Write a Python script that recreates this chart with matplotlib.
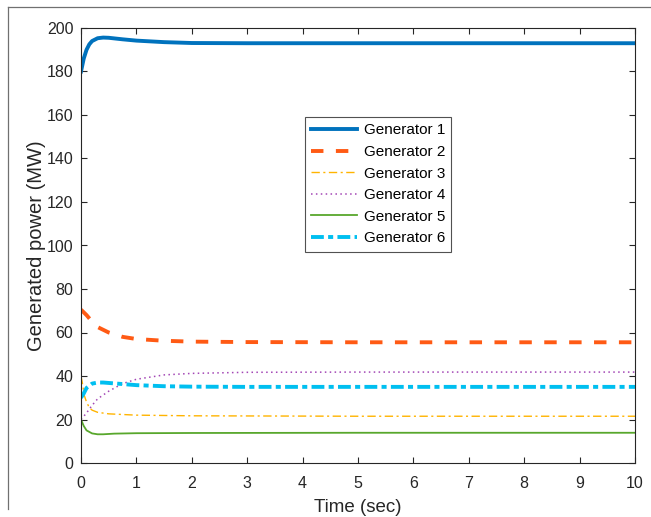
import matplotlib
matplotlib.use("Agg")
import matplotlib.pyplot as plt
from matplotlib.lines import Line2D

plt.rcParams["font.family"] = ["Liberation Sans", "DejaVu Sans"]

# Generator 1
t1 = [0, 0.05, 0.1, 0.15, 0.2, 0.3, 0.4, 0.5, 0.75, 1.0, 1.5, 2.0, 3.0, 5.0, 10.0]
p1 = [180, 186, 190, 192.5, 194, 195.3, 195.6, 195.5, 194.8, 194.2, 193.5, 193.1, 193.0, 193.0, 193.0]
# Generator 2
t2 = [0, 0.1, 0.2, 0.3, 0.5, 0.75, 1.0, 1.5, 2.0, 3.0, 5.0, 10.0]
p2 = [70.5, 68, 65, 62.5, 60, 58, 57, 56.2, 55.8, 55.6, 55.5, 55.5]
# Generator 3
t3 = [0, 0.03, 0.06, 0.1, 0.15, 0.2, 0.3, 0.5, 1.0, 2.0, 5.0, 10.0]
p3 = [40, 36, 31, 28, 25.5, 24.3, 23.3, 22.6, 22.0, 21.7, 21.5, 21.5]
# Generator 4
t4 = [0, 0.1, 0.2, 0.3, 0.5, 0.75, 1.0, 1.5, 2.0, 3.0, 5.0, 10.0]
p4 = [20, 23, 26.5, 29.5, 33, 36.5, 38.5, 40.5, 41.2, 41.7, 41.8, 41.8]
# Generator 5
t5 = [0, 0.05, 0.1, 0.2, 0.3, 0.4, 0.6, 1.0, 2.0, 5.0, 10.0]
p5 = [20, 17, 15, 13.6, 13.2, 13.2, 13.5, 13.7, 13.8, 13.9, 13.9]
# Generator 6
t6 = [0, 0.05, 0.1, 0.2, 0.3, 0.4, 0.6, 1.0, 1.5, 2.0, 3.0, 10.0]
p6 = [30, 32, 34.5, 36.5, 37, 37, 36.6, 35.8, 35.3, 35.1, 35.0, 35.0]

labels = ["Generator 1", "Generator 2", "Generator 3", "Generator 4", "Generator 5", "Generator 6"]

fig = plt.figure(figsize=(6.51, 5.17), dpi=100)
ax = fig.add_axes([81 / 651, 1 - 463 / 517, 554 / 651, 435 / 517])

ax.plot(t1, p1, color="#0072BD", lw=2.8, label=labels[0])
ax.plot(t2, p2, color="#FF5A14", lw=2.8, dashes=(3.2, 3.2), label=labels[1])
ax.plot(t3, p3, color="#FFB400", lw=1.0, dashes=(6, 2.5, 1.5, 2.5), label=labels[2])
ax.plot(t4, p4, color="#A346B5", lw=1.1, dashes=(1, 2.2), label=labels[3])
ax.plot(t5, p5, color="#58A72C", lw=1.3, label=labels[4])
ax.plot(t6, p6, color="#00BFF0", lw=2.8, dashes=(3.3, 1.1, 1.3, 1.1), label=labels[5])

ax.set_xlim(0, 10)
ax.set_ylim(0, 200)
ax.set_xticks(range(0, 11))
ax.set_yticks(range(0, 201, 20))
ax.tick_params(direction="in", top=True, right=True, length=4, width=0.8,
               labelsize=11.5, colors="#262626")
ax.tick_params(axis="x", pad=9)
ax.tick_params(axis="y", pad=5.5)
for s in ax.spines.values():
    s.set_color("#262626")
    s.set_linewidth(0.8)
ax.set_xlabel("Time (sec)", fontsize=13.5, color="#262626", labelpad=6)
ax.set_ylabel("Generated power (MW)", fontsize=14.5, color="#262626", labelpad=0.5)

leg = ax.legend(loc="upper left", bbox_to_anchor=(0.404, 0.795), fontsize=11,
                frameon=True, fancybox=False, handlelength=3.0, borderpad=0.4,
                labelspacing=0.5, handletextpad=0.45, borderaxespad=0)
leg.get_frame().set_edgecolor("#262626")
leg.get_frame().set_linewidth(0.8)

# outer frame of the original figure
fig.add_artist(Line2D([8 / 651, 8 / 651], [1 - 509 / 517, 1 - 7 / 517],
                      transform=fig.transFigure, color="#707070", lw=0.9))
fig.add_artist(Line2D([8 / 651, 1], [1 - 7 / 517, 1 - 7 / 517],
                      transform=fig.transFigure, color="#707070", lw=0.9))

fig.savefig("out.png", dpi=100)
